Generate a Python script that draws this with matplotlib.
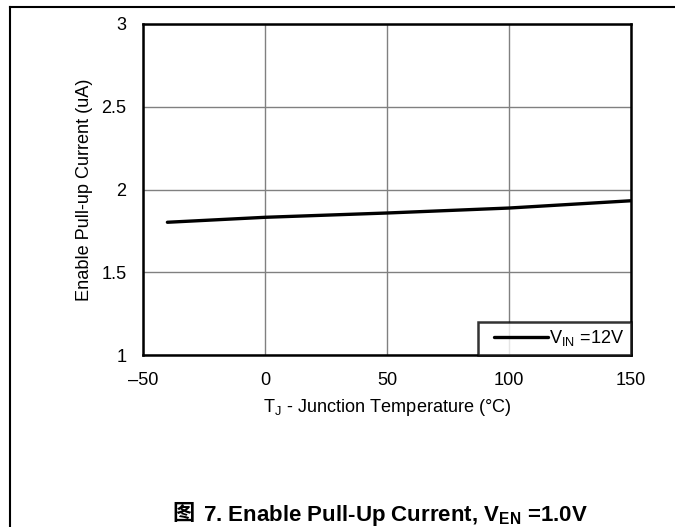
import matplotlib
matplotlib.use("Agg")
import matplotlib.pyplot as plt
from matplotlib.lines import Line2D
from matplotlib.legend_handler import HandlerLine2D
from matplotlib.offsetbox import TextArea, HPacker, AnchoredOffsetbox

plt.rcParams['font.family'] = ['Liberation Sans', 'Noto Sans CJK SC', 'DejaVu Sans']
plt.rcParams['mathtext.fontset'] = 'custom'
plt.rcParams['mathtext.rm'] = 'Liberation Sans'
plt.rcParams['mathtext.it'] = 'Liberation Sans'
plt.rcParams['mathtext.bf'] = 'Liberation Sans:bold'

temp = [-40, 0, 50, 100, 150]
current = [1.802, 1.832, 1.858, 1.888, 1.932]
xticks = [-50, 0, 50, 100, 150]
xticklabels = ['\u201350', '0', '50', '100', '150']
yticks = [1, 1.5, 2, 2.5, 3]
yticklabels = ['1', '1.5', '2', '2.5', '3']

FS = 13.1
CFS = 16

fig = plt.figure(figsize=(6.75, 5.27), dpi=100)
ax = fig.add_axes([143/675, 1-355/527, (631-143)/675, (355-24)/527])

ax.plot(temp, current, color='black', lw=2.4, solid_capstyle='round', label=r'V$_{\mathregular{IN}}$ =12V')
ax.set_xlim(-50, 150)
ax.set_ylim(1, 3)
ax.set_xticks(xticks)
ax.set_xticklabels(xticklabels)
ax.set_yticks(yticks)
ax.set_yticklabels(yticklabels)
ax.tick_params(length=0, labelsize=FS, pad=12)
ax.grid(True, color='#808080', lw=1.0)
for s in ax.spines.values():
    s.set_linewidth(1.8)
    s.set_color('black')

ax.set_xlabel(r'T$_{\mathregular{J}}$ - Junction Temperature (°C)', fontsize=FS, labelpad=6)
ax.set_ylabel('Enable Pull-up Current (uA)', fontsize=FS, labelpad=6)

leg = ax.legend(loc='lower right', fontsize=FS, frameon=True, fancybox=False,
                borderaxespad=0, handlelength=4.0, handletextpad=-0.47,
                borderpad=0.36, numpoints=2,
                handler_map={Line2D: HandlerLine2D(marker_pad=0.52, numpoints=2)})
leg.get_frame().set_edgecolor('black')
leg.get_frame().set_linewidth(1.8)

cap1 = TextArea('图', textprops=dict(fontsize=CFS, fontweight='bold', family=['Noto Sans CJK SC']))
cap2 = TextArea(r'7. Enable Pull-Up Current, V$_{\mathbf{EN}}$ =1.0V',
                textprops=dict(fontsize=CFS, fontweight='bold'))
box = HPacker(children=[cap1, cap2], pad=0, sep=6, align='baseline')
anch = AnchoredOffsetbox(loc='center', child=box, pad=0, frameon=False,
                         bbox_to_anchor=(380/675, 1-515/527), bbox_transform=fig.transFigure,
                         borderpad=0)
fig.add_artist(anch)

fig.add_artist(Line2D([10/675, 10/675], [0, 1-7/527], color='black', lw=1.5, transform=fig.transFigure))
fig.add_artist(Line2D([10/675, 1], [1-7/527, 1-7/527], color='black', lw=1.5, transform=fig.transFigure))

fig.savefig('out.png', dpi=100)
